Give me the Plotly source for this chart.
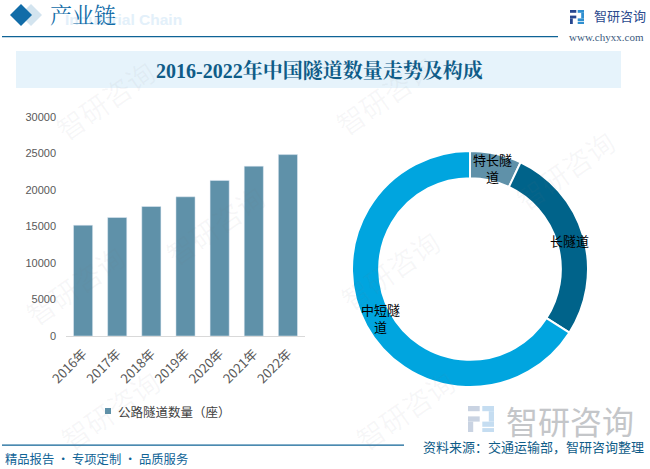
import plotly.graph_objects as go

W, H = 650, 469
years = ["2016年", "2017年", "2018年", "2019年", "2020年", "2021年", "2022年"]
tunnels = [15181, 16229, 17738, 19067, 21316, 23268, 24850]
y_ticks = [0, 5000, 10000, 15000, 20000, 25000, 30000]
parts = ["特长隧道", "长隧道", "中短隧道"]
part_values = [1752, 6715, 16383]
part_text = ["特长隧<br>道", "长隧道", "中短隧<br>道"]
part_text_xy = [(492, 168), (569, 241), (380, 318)]
series_name = "公路隧道数量（座）"
CJK = "Noto Sans CJK SC"
SERIF = "Liberation Serif, Noto Serif CJK SC, Noto Sans CJK SC"

def px(x): return x / W
def py(y): return 1 - y / H

fig = go.Figure()
fig.add_trace(go.Bar(x=years, y=tunnels, name=series_name, marker_color="#5F91A9",
                     width=0.56, showlegend=False, xaxis="x", yaxis="y"))
fig.add_trace(go.Pie(labels=parts, values=part_values, sort=False, direction="clockwise",
                     rotation=0, hole=0.77, textinfo="none", showlegend=False,
                     marker=dict(colors=["#5F91A9", "#00638A", "#00A5DF"],
                                 line=dict(color="white", width=2)),
                     domain=dict(x=[px(470 - 118), px(470 + 118)], y=[py(269 + 118), py(269 - 118)])))

def rect(x0, y0, x1, y1, col, layer="above"):
    return dict(type="rect", xref="paper", yref="paper", x0=px(x0), x1=px(x1), y0=py(y1), y1=py(y0),
                fillcolor=col, line_width=0, layer=layer)
def diamond(cx, cy, r, col, layer="above"):
    p = f"M {px(cx-r)} {py(cy)} L {px(cx)} {py(cy-r)} L {px(cx+r)} {py(cy)} L {px(cx)} {py(cy+r)} Z"
    return dict(type="path", xref="paper", yref="paper", path=p, fillcolor=col, line_width=0, layer=layer)

shapes = [
    rect(16, 51, 621, 88, "#E6F3FB", "below"),
    rect(2, 36, 558, 37.3, "#0F6396"),
    rect(2, 444.5, 404, 445.8, "#0F6396"),
    diamond(31, 15, 11, "#D3E4EF", "below"),
    diamond(21, 15, 11, "#116CA8"),
    rect(105, 408, 111, 414, "#5F91A9"),
]
def logo(x, y, s, c1, c2):
    return [rect(x + a * s, y + b * s, x + c * s, y + d * s, col) for (a, b, c, d, col) in
            [(0, 0, .45, .2, c1), (0, .4, .45, .6, c1), (0, .6, .2, 1, c1),
             (.55, 0, 1, .2, c2), (.8, .2, 1, .6, c2), (.55, .6, 1, .8, c2), (.55, .85, 1, 1, c2)]]
shapes += logo(570, 10, 14, "#27468F", "#2F8FD0")
shapes += logo(468, 406, 26, "#C9D3E2", "#C5DDF1")

ann = []
def text(x, y, t, size, color, family=CJK, anchor="left", angle=0):
    ann.append(dict(xref="paper", yref="paper", x=px(x), y=py(y), text=t, showarrow=False, xanchor=anchor,
                    yanchor="middle", textangle=angle, font=dict(size=size, color=color, family=family)))

# watermarks
for (x, y) in [(105, 100), (385, 95), (75, 285), (215, 225), (110, 410), (390, 270), (405, 410), (565, 170)]:
    text(x, y, "智研咨询", 28, "rgba(120,120,130,0.06)", anchor="center", angle=-35)

text(63, 20, "<b>Industrial Chain</b>", 15.5, "#E3F0FA", family="Liberation Sans", anchor="left")
text(48, 15, "产业链", 22, "#116CA8", family=SERIF)
text(592, 15, "智研咨询", 13, "#2B4A8E", anchor="left")
text(567, 37, "www.chyxx.com", 11, "#3B5A7E", family=SERIF, anchor="left")
text(319, 70, "<b>2016-2022年中国隧道数量走势及构成</b>", 20, "#0F5C88", family=SERIF, anchor="center")
text(504, 420, "智研咨询", 32, "#C4C6C9", anchor="left")
text(421, 446, "资料来源：交通运输部，智研咨询整理", 13, "#0F5C88", anchor="left")
text(3, 459, "精品报告 · 专项定制 · 品质服务", 12.3, "#0F6396", anchor="left")
text(116, 411, series_name, 12.5, "#404040", anchor="left")
for t, (x, y) in zip(part_text, part_text_xy):
    text(x, y, t, 13, "#000000", anchor="center")

fig.update_layout(
    width=W, height=H, autosize=False, margin=dict(l=0, r=0, t=0, b=0),
    paper_bgcolor="white", plot_bgcolor="rgba(0,0,0,0)", shapes=shapes, annotations=ann,
    font=dict(family=CJK), showlegend=False,
    xaxis=dict(domain=[px(66), px(305)], anchor="y", tickangle=-45, showgrid=False, showline=True, automargin=False,
               linecolor="#D9D9D9", ticks="", ticklabelstandoff=4,
               tickfont=dict(size=13, color="#595959", family=CJK)),
    yaxis=dict(domain=[py(336), py(117)], anchor="x", range=[0, 30000], tickvals=y_ticks, tickformat="d", showgrid=False,
               automargin=False, zeroline=False, ticks="", ticklabelstandoff=9,
               tickfont=dict(size=11, color="#595959", family="Liberation Sans")),
)
fig.write_html("out.html", config={"displayModeBar": False},
               post_script="document.body.style.margin='0';document.documentElement.style.overflow='hidden';")
